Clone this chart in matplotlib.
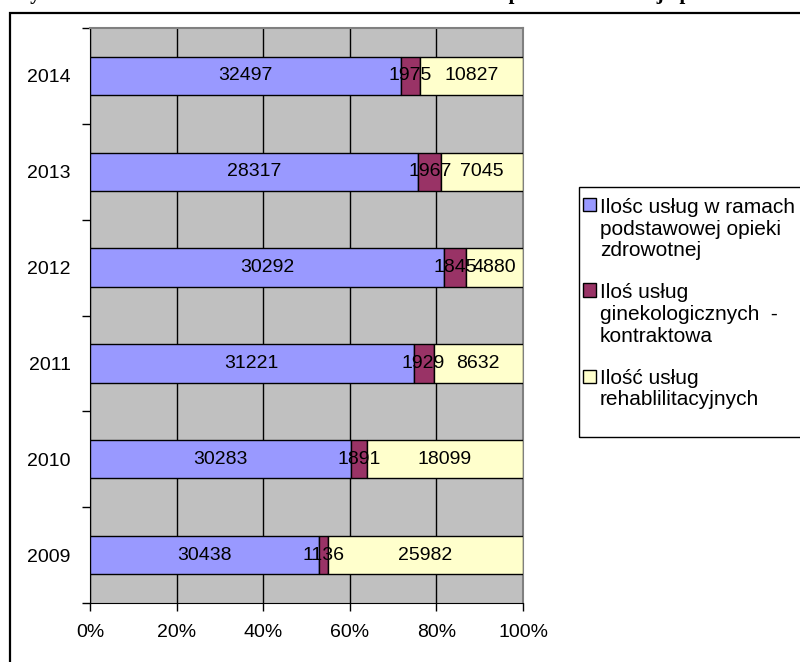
import numpy as np
import matplotlib
matplotlib.use("Agg")
import matplotlib.pyplot as plt
from matplotlib.patches import Rectangle
from matplotlib.legend_handler import HandlerPatch

plt.rcParams['font.family'] = ['Liberation Sans', 'DejaVu Sans']

years = ['2009', '2010', '2011', '2012', '2013', '2014']
poz = [30438, 30283, 31221, 30292, 28317, 32497]
gin = [1136, 1891, 1929, 1845, 1967, 1975]
reh = [25982, 18099, 8632, 4880, 7045, 10827]
labels = ['Ilośc usług w ramach\npodstawowej opieki\nzdrowotnej',
          'Iloś usług\nginekologicznych  -\nkontraktowa',
          'Ilość usług\nrehablilitacyjnych']
colors = ['#9999FF', '#993366', '#FFFFCC']

series = np.array([poz, gin, reh], dtype=float)
total = series.sum(axis=0)
share = series / total

fig = plt.figure(figsize=(8, 6.62), dpi=100)
W, H = 800, 662
ax = fig.add_axes([90 / W, 59 / H, 433 / W, 575 / H])
ax.set_facecolor('#C0C0C0')

y = np.arange(len(years))
left = np.zeros(len(years))
handles = []
for i in range(3):
    b = ax.barh(y, share[i], left=left, height=0.4, color=colors[i],
                edgecolor='black', linewidth=1, zorder=3, label=labels[i])
    handles.append(b.patches[0])
    for j in range(len(years)):
        ax.text(left[j] + share[i][j] / 2, y[j], f'{int(series[i][j])}',
                ha='center', va='center', fontsize=14, zorder=4)
    left += share[i]

ax.set_xlim(0, 1)
ax.set_ylim(-0.5, 5.5)
ax.set_xticks(np.arange(0, 1.01, 0.2))
ax.set_xticklabels([f'{int(round(v * 100))}%' for v in np.arange(0, 1.01, 0.2)], fontsize=14)
ax.xaxis.grid(True, color='black', linewidth=1, zorder=1)
ax.set_axisbelow(True)
ax.set_yticks(y)
ax.set_yticklabels(years, fontsize=14)
ax.set_yticks(np.arange(-0.5, 5.6, 1), minor=True)
ax.tick_params(axis='y', which='major', length=0, pad=14)
ax.tick_params(axis='y', which='minor', length=6, width=1, direction='out')
ax.tick_params(axis='x', length=6, width=1, direction='out', pad=9)
ax.spines['top'].set_color('#808080')
ax.spines['right'].set_color('#808080')
ax.spines['top'].set_linewidth(1.5)
ax.spines['right'].set_linewidth(1.5)

# legend: marker next to the first line of each label
LS = 1.18
def top_square(nlines):
    def f(legend, orig_handle, xdescent, ydescent, width, height, fontsize):
        shift = (nlines - 1) / 2 * LS * fontsize
        return Rectangle((-xdescent, -ydescent + shift), width, height)
    return f

hmap = {h: HandlerPatch(patch_func=top_square(lab.count('\n') + 1))
        for h, lab in zip(handles, labels)}
leg = fig.legend(handles=handles, labels=labels, handler_map=hmap,
                 loc='upper left', bbox_to_anchor=(583 / W, 1 - 198 / H),
                 frameon=False, fontsize=15, handlelength=0.6, handleheight=0.6,
                 handletextpad=0.2, labelspacing=1.1, borderpad=0, borderaxespad=0)
for t in leg.get_texts():
    t.set_linespacing(LS)
fig.patches.append(Rectangle((579 / W, 1 - 437 / H), 240 / W, 250 / H,
                             transform=fig.transFigure, facecolor='none',
                             edgecolor='black', linewidth=1))

# outer chart border
fig.patches.append(Rectangle((9.5 / W, -0.1), 1.0, 1.1 - 12.5 / H,
                             transform=fig.transFigure, facecolor='none',
                             edgecolor='black', linewidth=1.6))

# title, cut off at the top edge (only descenders visible)
fig.text(10 / W, 1 + 1.5 / H,
         'Wykres 6. Ilość świadczeń w ZOZ w latach 2009-2014 – podział na rodzaj opieki',
         fontsize=15, fontweight='bold', family='Liberation Serif', va='baseline')

fig.savefig('out.png', dpi=100)
